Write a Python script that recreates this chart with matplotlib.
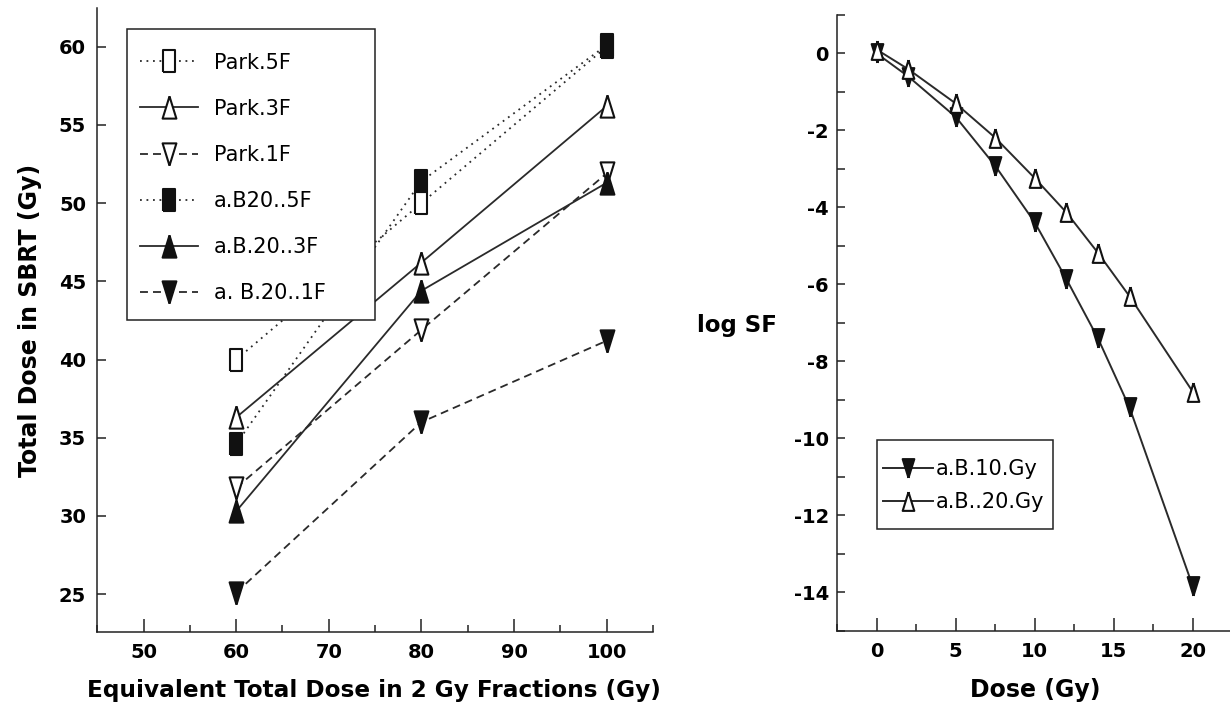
import matplotlib
matplotlib.use("Agg")
import matplotlib.pyplot as plt
from matplotlib.patches import Rectangle
from matplotlib.ticker import MultipleLocator

plt.rcParams['font.family'] = ['DejaVu Sans']
plt.rcParams['axes.unicode_minus'] = False

# left panel: SBRT dose vs EQD2
eqd2 = [60, 80, 100]
park_5f = [40.0, 50.0, 60.0]
park_3f = [36.3, 46.2, 56.2]
park_1f = [31.8, 41.9, 51.9]
ab20_5f = [34.6, 51.4, 60.1]
ab20_3f = [30.3, 44.4, 51.3]
ab20_1f = [25.1, 36.0, 41.2]

# right panel: log survival fraction vs dose
dose = [0, 2, 5, 7.5, 10, 12, 14, 16, 20]
logsf_ab10 = [0.0, -0.6, -1.65, -2.92, -4.39, -5.86, -7.40, -9.2, -13.84]
logsf_ab20 = [0.1, -0.41, -1.3, -2.19, -3.24, -4.13, -5.18, -6.31, -8.79]

# narrow marker shapes like the scanned figure
tri_up = [(0, 1), (-0.62, -1), (0.62, -1), (0, 1)]
tri_dn = [(0, -1), (-0.62, 1), (0.62, 1), (0, -1)]
rect = [(-0.55, -1), (0.55, -1), (0.55, 1), (-0.55, 1), (-0.55, -1)]

dotted = (0, (1, 2.6))
dashed = (0, (4.4, 2.8))
lc = '#2a2a2a'
W, H = 1230, 710

fig = plt.figure(figsize=(12.3, 7.1), dpi=100)
ax1 = fig.add_axes([0.0791, 0.1103, 0.4517, 0.8789])
ax2 = fig.add_axes([0.6807, 0.1117, 0.3193, 0.8672])

series = [
    (park_5f, 'Park.5F', dotted, rect, 'white'),
    (park_3f, 'Park.3F', '-', tri_up, 'white'),
    (park_1f, 'Park.1F', dashed, tri_dn, 'white'),
    (ab20_5f, 'a.B20..5F', dotted, rect, '#111111'),
    (ab20_3f, 'a.B.20..3F', '-', tri_up, '#111111'),
    (ab20_1f, 'a. B.20..1F', dashed, tri_dn, '#111111'),
]
for vals, lab, ls, mk, fc in series:
    ax1.plot(eqd2, vals, linestyle=ls, color=lc, lw=1.3, marker=mk,
             markersize=16, markerfacecolor=fc, markeredgecolor='#111111',
             markeredgewidth=1.5, label=lab)

ax1.set_xlim(45, 105)
ax1.set_ylim(22.6, 62.5)
ax1.set_xticks(range(50, 101, 10))
ax1.xaxis.set_minor_locator(MultipleLocator(5))
ax1.set_yticks(range(25, 61, 5))

ax2.plot(dose, logsf_ab10, '-', color=lc, lw=1.4, marker=tri_dn, markersize=13.5,
         markerfacecolor='#111111', markeredgecolor='#111111', markeredgewidth=1.5,
         label='a.B.10.Gy')
ax2.plot(dose, logsf_ab20, '-', color=lc, lw=1.4, marker=tri_up, markersize=13.5,
         markerfacecolor='white', markeredgecolor='#111111', markeredgewidth=1.5,
         label='a.B..20.Gy')
ax2.set_xlim(-2.5, 22.36)
ax2.set_ylim(-15, 1)
ax2.set_xticks(range(0, 21, 5))
ax2.xaxis.set_minor_locator(MultipleLocator(2.5))
ax2.set_yticks(range(-14, 1, 2))
ax2.yaxis.set_minor_locator(MultipleLocator(1))

for ax in (ax1, ax2):
    for s in ('top', 'right'):
        ax.spines[s].set_visible(False)
    for s in ('left', 'bottom'):
        ax.spines[s].set_linewidth(1.1)
        ax.spines[s].set_color('#222222')
    ax.tick_params(which='both', direction='in', width=1.1, color='#222222')
    ax.tick_params(axis='x', which='major', length=9.4, pad=8)
    ax.tick_params(axis='x', which='minor', length=5)
    for t in ax.get_xticklabels() + ax.get_yticklabels():
        t.set_fontweight('bold')
        t.set_fontsize(14)

ax1.tick_params(axis='y', which='major', length=6.3, pad=8)
ax2.tick_params(axis='y', which='both', length=5.5, pad=6)

# legends without their own frame; white boxes drawn to match the original size
leg1 = ax1.legend(loc='upper left', bbox_to_anchor=(0.054, 0.9478), borderaxespad=0,
                  fontsize=15, frameon=False, handlelength=2.8, handletextpad=0.75,
                  labelspacing=1.25, borderpad=0.6)
leg2 = ax2.legend(loc='upper left', bbox_to_anchor=(0.1006, 0.2885), borderaxespad=0,
                  fontsize=15, frameon=False, handlelength=2.4, handletextpad=0.15,
                  labelspacing=0.62, borderpad=0.3)

for ax, (x0, y0, x1, y1) in [(ax1, (127.3, 29.3, 375, 320)),
                             (ax2, (876.7, 440, 1052.7, 529))]:
    ax.add_patch(Rectangle((x0 / W, 1 - y1 / H), (x1 - x0) / W, (y1 - y0) / H,
                           transform=fig.transFigure, facecolor='white',
                           edgecolor='#222222', linewidth=1.1, zorder=4,
                           clip_on=False))

fig.text(30 / W, 1 - 320 / H, 'Total Dose in SBRT (Gy)', rotation=90,
         ha='center', va='center', fontsize=17, fontweight='bold')
fig.text(374 / W, 1 - 690 / H, 'Equivalent Total Dose in 2 Gy Fractions (Gy)',
         ha='center', va='center', fontsize=16.7, fontweight='bold')
fig.text(737 / W, 1 - 325 / H, 'log SF', ha='center', va='center',
         fontsize=16.5, fontweight='bold')
fig.text(1035 / W, 1 - 690 / H, 'Dose (Gy)', ha='center', va='center',
         fontsize=17, fontweight='bold')

fig.savefig('out.png', dpi=100)
